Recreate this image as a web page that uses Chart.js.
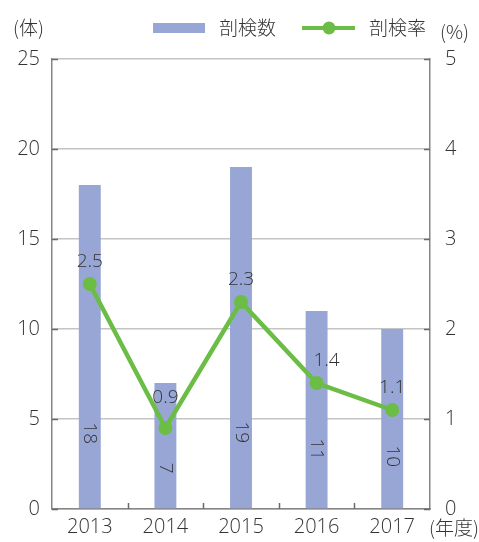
<!DOCTYPE html>
<html>
<head>
<meta charset="utf-8">
<script src="https://cdn.jsdelivr.net/npm/chart.js@4"></script>
<style>
  html, body { margin: 0; padding: 0; background: #fff; }
  #wrap { width: 479px; height: 542px; }
</style>
</head>
<body>
<div id="wrap"><canvas id="c" width="479" height="542"></canvas></div>
<script>
// Autopsy counts and autopsy rate by fiscal year
const years = ['2013', '2014', '2015', '2016', '2017'];
const autopsyCount = [18, 7, 19, 11, 10];
const autopsyRate = [2.5, 0.9, 2.3, 1.4, 1.1];
const countTicks = [0, 5, 10, 15, 20, 25];
const rateTicks = [0, 1, 2, 3, 4, 5];

const BAR_COLOR = '#98a6d5';
const LINE_COLOR = '#6bbd45';
const TEXT_COLOR = '#333333';
const AXIS_COLOR = '#858585';
const GRID_COLOR = '#c4c4c4';
const FONT = '"Open Sans", "Noto Sans CJK JP", sans-serif';
const CJK_FONT = '"Noto Sans CJK JP", sans-serif';

// height (px above the base line) of the centre of each rotated count label
const countLabelLift = [75, 40, 76, 59, 52];
// small nudges for the rate labels
const rateLabelNudge = [[0, 0], [0, -8], [0, 0], [10, 0], [0, 0]];

const overlay = {
  id: 'overlay',
  afterDatasetsDraw(chart) {
    const ctx = chart.ctx;
    const area = chart.chartArea;
    const x = chart.scales.x, yL = chart.scales.yL, yR = chart.scales.yR;
    ctx.save();

    // inward tick marks on the value axes
    ctx.strokeStyle = '#6a6a6a';
    ctx.lineWidth = 1.5;
    countTicks.forEach(v => {
      const py = Math.round(yL.getPixelForValue(v)) + 0.5;
      ctx.beginPath(); ctx.moveTo(area.left, py); ctx.lineTo(area.left + 6, py); ctx.stroke();
    });
    rateTicks.forEach(v => {
      const py = Math.round(yR.getPixelForValue(v)) + 0.5;
      ctx.beginPath(); ctx.moveTo(area.right - 6, py); ctx.lineTo(area.right, py); ctx.stroke();
    });
    // inward tick marks between categories
    for (let i = 1; i < years.length; i++) {
      const px = Math.round((x.getPixelForValue(i - 1) + x.getPixelForValue(i)) / 2) + 0.5;
      ctx.beginPath(); ctx.moveTo(px, area.bottom); ctx.lineTo(px, area.bottom - 6); ctx.stroke();
    }

    // count labels, rotated, inside the bars
    ctx.fillStyle = TEXT_COLOR;
    ctx.font = '300 19px ' + FONT;
    ctx.textAlign = 'center';
    ctx.textBaseline = 'middle';
    const bars = chart.getDatasetMeta(0).data;
    bars.forEach((bar, i) => {
      ctx.save();
      ctx.translate(bar.x, bar.base - countLabelLift[i]);
      ctx.rotate(Math.PI / 2);
      ctx.fillText(String(autopsyCount[i]), 0, 0);
      ctx.restore();
    });

    // rate labels above the points
    const pts = chart.getDatasetMeta(1).data;
    pts.forEach((p, i) => {
      ctx.fillText(autopsyRate[i].toFixed(1), p.x + rateLabelNudge[i][0], p.y - 22 + rateLabelNudge[i][1]);
    });

    // unit captions
    ctx.font = '300 19px ' + CJK_FONT;
    ctx.textAlign = 'left';
    ctx.fillText('(体)', 13, 28);
    ctx.fillText('(%)', 440, 32);
    ctx.fillText('(年度)', 429, 528);

    // legend
    ctx.fillStyle = BAR_COLOR;
    ctx.fillRect(153, 23, 52, 10);
    ctx.fillStyle = TEXT_COLOR;
    ctx.fillText('剖検数', 219, 28);
    ctx.strokeStyle = LINE_COLOR;
    ctx.lineWidth = 4;
    ctx.beginPath(); ctx.moveTo(302, 28); ctx.lineTo(355, 28); ctx.stroke();
    ctx.fillStyle = LINE_COLOR;
    ctx.beginPath(); ctx.arc(329, 28, 6.5, 0, Math.PI * 2); ctx.fill();
    ctx.fillStyle = TEXT_COLOR;
    ctx.fillText('剖検率', 369, 28);

    ctx.restore();
  }
};

const tickFont = { family: FONT, size: 20, weight: 300 };

new Chart(document.getElementById('c'), {
  data: {
    labels: years,
    datasets: [
      {
        type: 'bar',
        label: '剖検数',
        data: autopsyCount,
        yAxisID: 'yL',
        backgroundColor: BAR_COLOR,
        categoryPercentage: 1,
        barPercentage: 0.29,
        order: 2
      },
      {
        type: 'line',
        label: '剖検率',
        data: autopsyRate,
        yAxisID: 'yR',
        borderColor: LINE_COLOR,
        backgroundColor: LINE_COLOR,
        borderWidth: 4.5,
        pointRadius: 7,
        pointHoverRadius: 7,
        pointBorderWidth: 0,
        tension: 0,
        order: 1
      }
    ]
  },
  options: {
    responsive: false,
    animation: false,
    devicePixelRatio: 1,
    layout: { padding: { top: 59, left: 0, right: 0, bottom: 0 } },
    plugins: { legend: { display: false }, tooltip: { enabled: false } },
    scales: {
      x: {
        offset: true,
        grid: { display: false, drawTicks: false },
        border: { display: true, color: AXIS_COLOR, width: 1.5 },
        ticks: { color: TEXT_COLOR, font: tickFont, padding: 6, maxRotation: 0 },
        afterFit(s) { s.height = 33; }
      },
      yL: {
        position: 'left',
        min: 0, max: 25,
        afterBuildTicks(s) { s.ticks = countTicks.map(v => ({ value: v })); },
        grid: { color: GRID_COLOR, lineWidth: 1.5, drawTicks: false },
        border: { display: true, color: AXIS_COLOR, width: 1.5 },
        ticks: { color: TEXT_COLOR, font: tickFont, padding: 12 },
        afterFit(s) { s.width = 52; }
      },
      yR: {
        position: 'right',
        min: 0, max: 5,
        afterBuildTicks(s) { s.ticks = rateTicks.map(v => ({ value: v })); },
        grid: { display: false, drawTicks: false },
        border: { display: true, color: AXIS_COLOR, width: 1.5 },
        ticks: { color: TEXT_COLOR, font: tickFont, padding: 15 },
        afterFit(s) { s.width = 49; }
      }
    }
  },
  plugins: [overlay]
});
</script>
</body>
</html>
